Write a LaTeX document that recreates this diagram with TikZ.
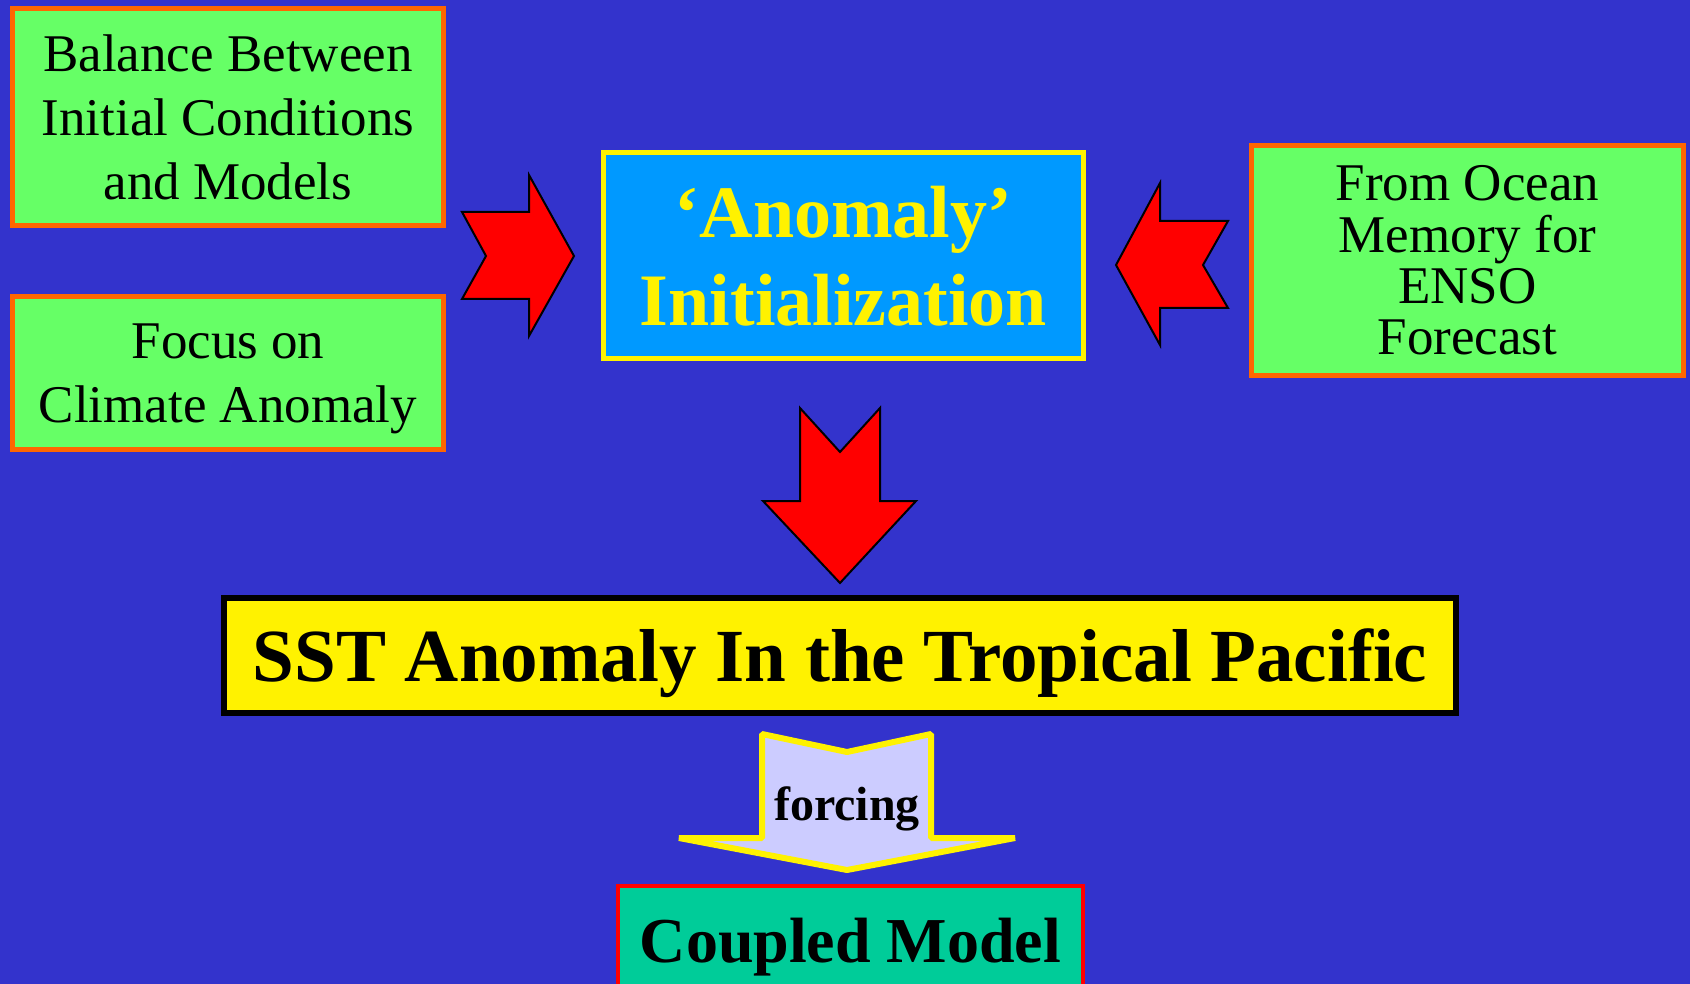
\documentclass[tikz,border=0pt]{standalone}
\usepackage{fontspec}
\setmainfont{Liberation Serif}
\usetikzlibrary{positioning}

\definecolor{bgblue}{HTML}{3333CC}
\definecolor{boxgreen}{HTML}{66FF66}
\definecolor{boxorange}{HTML}{FF6600}
\definecolor{anomblue}{HTML}{0099FF}
\definecolor{forcelilac}{HTML}{CCCCFF}
\definecolor{coupledgreen}{HTML}{00CC99}

\tikzset{
  notebox/.style={rectangle, draw=boxorange, fill=boxgreen, line width=5pt,
    align=center, minimum width=431pt, font=\fontsize{53}{64}\selectfont},
  anombox/.style={rectangle, draw=yellow, fill=anomblue, line width=5pt,
    align=center, text=yellow, minimum width=480pt, minimum height=206pt,
    font=\bfseries\fontsize{74}{88}\selectfont},
  sstbox/.style={rectangle, draw=black, fill=yellow, line width=6pt,
    minimum width=1232pt, minimum height=115pt, text depth=0pt,
    font=\bfseries\fontsize{75}{90}\selectfont},
  coupledbox/.style={rectangle, draw=red, fill=coupledgreen, line width=4pt,
    minimum width=465pt, minimum height=130pt, text height=44pt, text depth=22pt,
    font=\bfseries\fontsize{64}{76}\selectfont},
  redarrow/.style={fill=red, draw=black, line width=2pt, line join=miter},
  forcearrow/.style={fill=forcelilac, draw=yellow, line width=6pt, line join=bevel}
}

\begin{document}
\begin{tikzpicture}[x=1pt,y=-1pt]
  \useasboundingbox (0,0) rectangle (1690,984);
  \clip (0,0) rectangle (1690,984);
  \fill[bgblue] (0,0) rectangle (1690,984);

  % the three green notes
  \node[notebox, minimum height=217pt] (balance) at (228,117)
    {Balance Between\\Initial Conditions\\and Models};
  \node[notebox, minimum height=153pt, text depth=0pt, below=66pt of balance] (focus)
    {Focus on\\Climate Anomaly};
  \node[notebox, minimum width=432pt, minimum height=230pt,
    font=\fontsize{53}{51.3}\selectfont] (enso) at (1467.5,260.5)
    {From Ocean\\Memory for\\ENSO\\Forecast};

  % centre box and the result
  \node[anombox] (anom) at (843.5,256) {`Anomaly'\\Initialization};
  \node[sstbox] (sst) at (840,655.5) {SST Anomaly In the Tropical Pacific};
  \node[coupledbox, anchor=north] (coupled) at (850.5,884) {Coupled Model};

  % red block arrows
  \draw[redarrow] (462,212) -- (529,212) -- (529,175) -- (574,256)
    -- (529,336) -- (529,299) -- (462,299) -- (486,256) -- cycle;
  \draw[redarrow] (1228,221) -- (1160,221) -- (1160,183) -- (1116,265)
    -- (1160,345) -- (1160,308) -- (1228,308) -- (1203,265) -- cycle;
  \draw[redarrow] (800,408) -- (840,452) -- (880,408) -- (880,501)
    -- (916,501) -- (840,583) -- (763,501) -- (800,501) -- cycle;

  % forcing arrow
  \draw[forcearrow] (762,734) -- (847,752) -- (931,734) -- (931,838)
    -- (1015,838) -- (847,870) -- (679,838) -- (762,838) -- cycle;
  \node[font=\bfseries\fontsize{48}{58}\selectfont] (forcing) at (847,809) {forcing};
\end{tikzpicture}
\end{document}
